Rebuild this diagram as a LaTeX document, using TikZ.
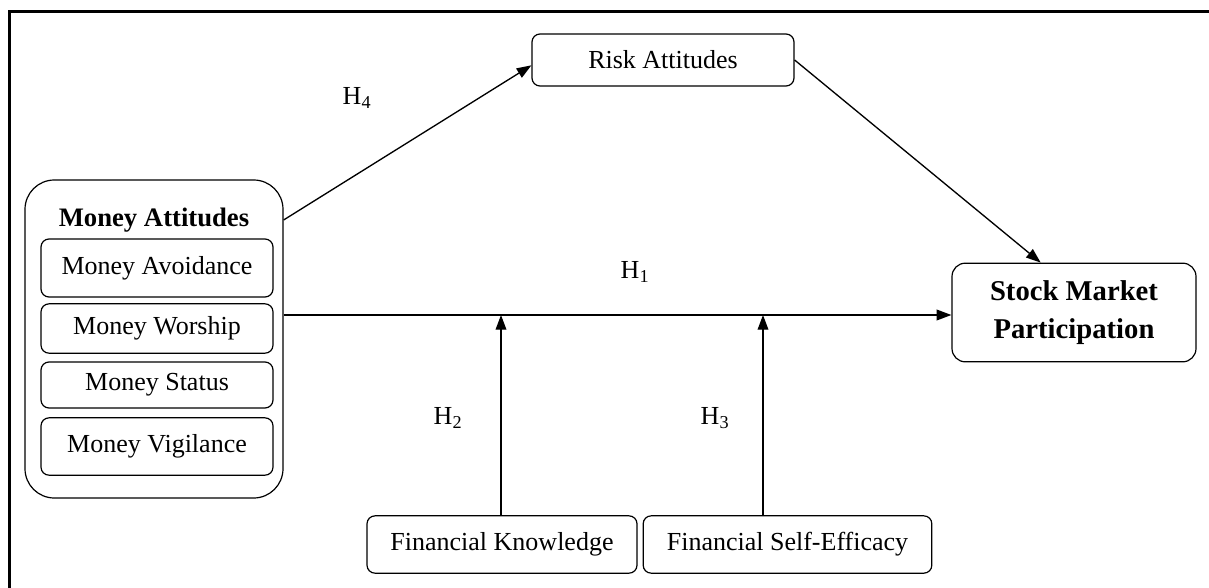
\documentclass[tikz,border=0pt]{standalone}
\usepackage{fontspec}
\setmainfont{Liberation Serif}
\usetikzlibrary{arrows.meta}
\tikzset{
  box/.style={draw, line width=0.9pt, rounded corners=6pt, align=center,
              inner sep=0pt, font=\fontsize{19.5}{22}\selectfont},
  arr/.style={line width=1pt, -{Triangle[length=11pt,width=8pt]}},
  hlab/.style={font=\fontsize{19.5}{22}\selectfont}
}
\begin{document}
\begin{tikzpicture}[x=0.75pt, y=-0.75pt]
      \useasboundingbox (0,0) rectangle (1209,588);
      % cadre
      \draw[line width=1.6pt] (9.5,588) -- (9.5,11.5) -- (1209,11.5);
      % money attitudes
      \node[box, rounded corners=22pt, minimum width=193.5pt, minimum height=238.5pt]
            (ma) at (154,339) {};
      \node[font=\fontsize{20}{22}\selectfont\bfseries] (matitle) at (154,220) {Money Attitudes};
      \node[box, minimum width=174pt, minimum height=43.5pt] (mav) at (157,268)   {Money Avoidance};
      \node[box, minimum width=174pt, minimum height=37pt]   (mwo) at (157,328.5) {Money Worship};
      \node[box, minimum width=174pt, minimum height=34.5pt] (mst) at (157,385)   {Money Status};
      \node[box, minimum width=174pt, minimum height=43pt]   (mvi) at (157,446.5) {Money Vigilance};
      % autres construits
      \node[box, minimum width=196.5pt, minimum height=39pt] (risk) at (663,60) {Risk Attitudes};
      \node[box, rounded corners=10pt, minimum width=183pt, minimum height=74pt,
            font=\fontsize{21.5}{28}\selectfont\bfseries] (smp) at (1074,312.5)
            {Stock Market\\Participation};
      \node[box, minimum width=202.5pt, minimum height=43pt] (fk)  at (502,544.5)   {Financial Knowledge};
      \node[box, minimum width=216.5pt, minimum height=43pt] (fse) at (787.5,544.5) {Financial Self-Efficacy};
      % points de moderation
      \coordinate (m1) at (501,315);
      \coordinate (m2) at (763,315);
      % fleches
      \draw[arr] (ma.east |- matitle) -- ([yshift=-4pt]risk.west);
      \draw[arr] (risk.east) -- ([xshift=-25pt]smp.north);
      \draw[arr] (ma.east |- m1) -- (smp.west |- m1);
      \draw[arr] (m1 |- fk.north) -- (m1);
      \draw[arr] (m2 |- fse.north) -- (m2);
      % hypotheses
      \node[hlab] (h4) at (357,98)  {H\textsubscript{4}};
      \node[hlab] (h1) at (635,272) {H\textsubscript{1}};
      \node[hlab] (h2) at (448,418) {H\textsubscript{2}};
      \node[hlab] (h3) at (715,418) {H\textsubscript{3}};
\end{tikzpicture}
\end{document}
